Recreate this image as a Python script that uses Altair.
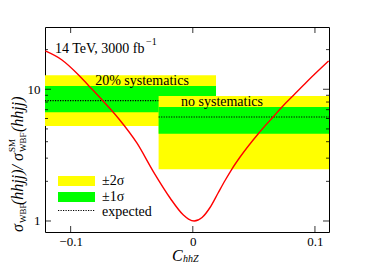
import altair as alt
import pandas as pd

# Red curve (C_hhZ, ratio)
curve_x = [-0.1208, -0.1071, -0.0935, -0.0854, -0.0731, -0.0608, -0.0458, -0.0322, -0.0186, -0.0077, -0.0035,
           0.0011, 0.0076, 0.0141, 0.0207, 0.0264, 0.0319, 0.0387, 0.0536, 0.0659, 0.0728, 0.0823, 0.0932, 0.1112]
curve_y = [19.54, 16.69, 12.84, 10.69, 8.08, 6.00, 3.91, 2.36, 1.495, 1.11, 1.035,
           1.0, 1.063, 1.266, 1.632, 2.03, 2.47, 3.06, 4.60, 6.19, 7.30, 8.97, 11.36, 16.40]

# Bands: [20% systematics, no systematics]
band_names = ["20% systematics", "no systematics"]
band_x1 = [-0.121, -0.028]
band_x2 = [0.019, 0.1115]
band_lo2 = [5.26, 2.47]
band_lo1 = [6.7, 4.6]
band_exp = [8.2, 6.16]
band_hi1 = [10.6, 7.34]
band_hi2 = [12.8, 8.9]

x_ticks = [-0.1, 0.0, 0.1]
y_major = [1, 10]
y_minor = [2, 3, 4, 5, 6, 7, 8, 9, 20]

W, H = 284, 205
xs = alt.Scale(domain=[-0.121, 0.1115], nice=False, zero=False)
ys = alt.Scale(type="log", domain=[0.825, 29.7], nice=False)

SERIF = "Liberation Serif"

x_axis = alt.Axis(values=x_ticks, title=None, ticks=False, domain=False, grid=False,
                  labelFont=SERIF, labelFontSize=13, labelColor="black", labelPadding=3,
                  labelExpr="datum.value == 0 ? '0' : format(datum.value, '.1f')")
y_axis = alt.Axis(values=y_major, format="d", title=None, ticks=False, domain=False, grid=False,
                  labelFont=SERIF, labelFontSize=13, labelColor="black", labelPadding=5)

layers = []
for i in range(2):
    d = pd.DataFrame({"x1": [band_x1[i]], "x2": [band_x2[i]],
                      "lo2": [band_lo2[i]], "hi2": [band_hi2[i]],
                      "lo1": [band_lo1[i]], "hi1": [band_hi1[i]], "e": [band_exp[i]]})
    base = alt.Chart(d)
    if i == 0:
        xe = alt.X("x1:Q", scale=xs, axis=x_axis)
        ye = alt.Y("lo2:Q", scale=ys, axis=y_axis)
    else:
        xe = alt.X("x1:Q", scale=xs)
        ye = alt.Y("lo2:Q", scale=ys)
    layers.append(base.mark_rect(color="#ffff00", clip=True).encode(
        x=xe, x2="x2:Q", y=ye, y2="hi2:Q"))
    layers.append(base.mark_rect(color="#00ff00", clip=True).encode(
        x=alt.X("x1:Q", scale=xs), x2="x2:Q",
        y=alt.Y("lo1:Q", scale=ys), y2="hi1:Q"))
    layers.append(base.mark_rule(color="black", strokeDash=[1.2, 1.3], strokeWidth=1.1, clip=True).encode(
        x=alt.X("x1:Q", scale=xs), x2="x2:Q",
        y=alt.Y("e:Q", scale=ys)))

curve_df = pd.DataFrame({"x": curve_x, "y": curve_y})
curve = alt.Chart(curve_df).mark_line(color="#ff0000", strokeWidth=1.4, interpolate="monotone", clip=True).encode(
    x=alt.X("x:Q", scale=xs),
    y=alt.Y("y:Q", scale=ys))

# Ticks (inward)
xt = pd.DataFrame({"x": x_ticks})
tick_layers = [
    alt.Chart(xt).mark_rule(color="black", strokeWidth=0.8).encode(
        x=alt.X("x:Q", scale=xs), y=alt.value(H), y2=alt.value(H - 6)),
    alt.Chart(xt).mark_rule(color="black", strokeWidth=0.8).encode(
        x=alt.X("x:Q", scale=xs), y=alt.value(0), y2=alt.value(6)),
]
ymaj = pd.DataFrame({"y": y_major})
ymin = pd.DataFrame({"y": y_minor})
for df, L in [(ymaj, 6), (ymin, 3)]:
    tick_layers.append(alt.Chart(df).mark_rule(color="black", strokeWidth=0.8).encode(
        y=alt.Y("y:Q", scale=ys), x=alt.value(0), x2=alt.value(L)))
    tick_layers.append(alt.Chart(df).mark_rule(color="black", strokeWidth=0.8).encode(
        y=alt.Y("y:Q", scale=ys), x=alt.value(W), x2=alt.value(W - L)))

# Text annotations
def txt(s, x, y, size=14, align="left", style="normal", angle=0, baseline="middle"):
    return alt.Chart(pd.DataFrame({"t": [s]})).mark_text(
        font=SERIF, fontSize=size, align=align, baseline=baseline, fontStyle=style,
        angle=angle, color="black").encode(text="t:N", x=alt.value(x), y=alt.value(y))

texts = [
    txt("14 TeV, 3000 fb", 10, 22, 14),
    txt("\u22121", 101, 15, 10),
    txt("20% systematics", 97, 54, 14, align="center"),
    txt("no systematics", 177, 75, 14, align="center"),
    txt("\u00b12\u03c3", 57, 154, 14),
    txt("\u00b11\u03c3", 57, 170, 14),
    txt("expected", 57, 185, 14),
    # x title C_hhZ
    txt("C", 127, 229, 16, style="italic"),
    txt("hhZ", 138, 232, 10, style="italic"),
    # y title
    txt("\u03c3", -27, 205, 16, style="italic", angle=270),
    txt("WBF", -22, 196, 9, angle=270),
    txt("(hhjj)/", -27, 178, 16, style="italic", angle=270),
    txt("\u03c3", -27, 134, 16, style="italic", angle=270),
    txt("SM", -33, 125, 9, angle=270),
    txt("WBF", -22, 125, 9, angle=270),
    txt("(hhjj)", -27, 105, 16, style="italic", angle=270),
]

# Legend swatches
leg = [
    alt.Chart(pd.DataFrame({"a": [0]})).mark_rect(color="#ffff00").encode(
        x=alt.value(13), x2=alt.value(50), y=alt.value(149), y2=alt.value(159)),
    alt.Chart(pd.DataFrame({"a": [0]})).mark_rect(color="#00ff00").encode(
        x=alt.value(13), x2=alt.value(50), y=alt.value(165), y2=alt.value(175)),
    alt.Chart(pd.DataFrame({"a": [0]})).mark_rule(color="black", strokeDash=[1.2, 1.3], strokeWidth=1.1).encode(
        x=alt.value(13), x2=alt.value(50), y=alt.value(183.5)),
]

chart = alt.layer(*layers, curve, *tick_layers, *leg, *texts).properties(
    width=W, height=H,
    autosize=alt.AutoSizeParams(type="none"),
    padding={"left": 37, "top": 19, "right": 29, "bottom": 34},
    background="white",
).configure_view(stroke="black", strokeWidth=1)

chart.save("out.html", embed_options={"renderer": "svg", "actions": False})
